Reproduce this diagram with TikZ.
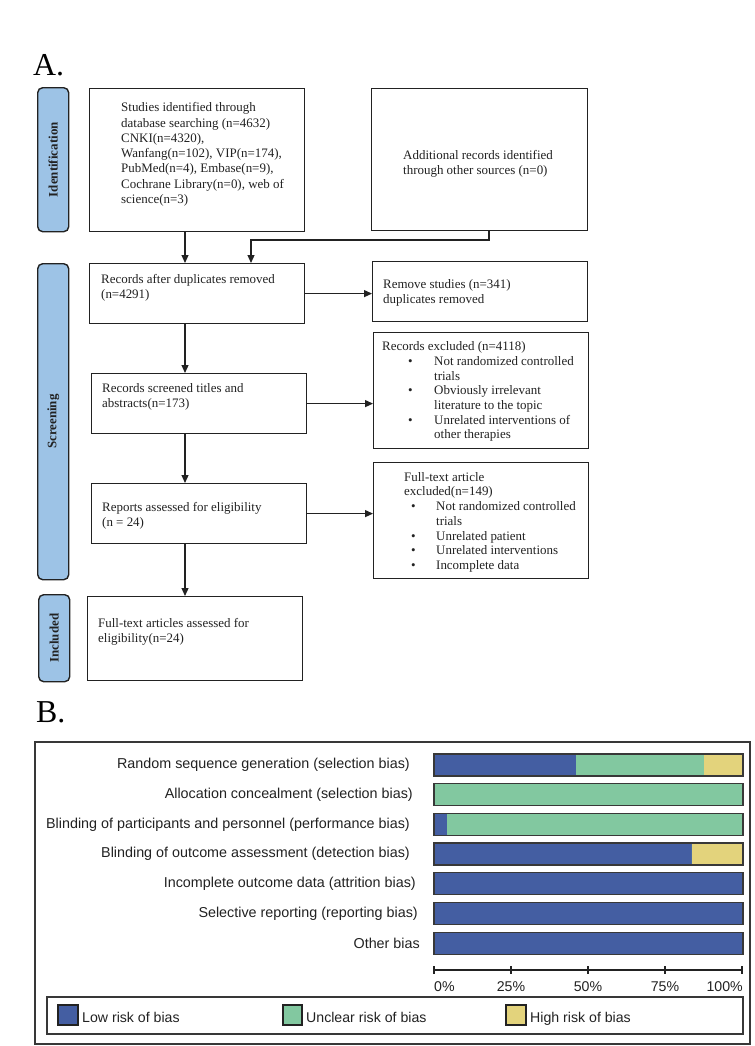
\documentclass[tikz,border=0pt]{standalone}
\usepackage{fontspec}
\setmainfont{Liberation Serif}
\setsansfont{Liberation Sans}
\usetikzlibrary{arrows.meta}
\definecolor{sidefill}{HTML}{9DC3E6}
\definecolor{lowc}{HTML}{445EA2}
\definecolor{uncc}{HTML}{82C8A0}
\definecolor{highc}{HTML}{E3D37C}
\definecolor{inkc}{HTML}{222222}
\begin{document}
\begin{tikzpicture}[x=1bp,y=-1bp,
  box/.style={draw=inkc, line width=1.2bp, inner sep=0pt, anchor=north west},
  side/.style={draw=inkc, fill=sidefill, line width=1.4bp, rounded corners=5bp, inner sep=0pt, anchor=north west},
  arr/.style={draw=inkc, line width=1.2bp, -{Triangle[length=8bp,width=7bp]}},
  ftxt/.style={anchor=north west, inner sep=0pt, align=left, text=inkc, font=\fontsize{13}{15}\selectfont},
  sidetxt/.style={rotate=90, inner sep=0pt, text=inkc, font=\bfseries\fontsize{13}{15}\selectfont},
  lab/.style={anchor=east, inner sep=0pt, text=inkc, font=\sffamily\fontsize{14.4}{16}\selectfont},
  axlab/.style={inner sep=0pt, text=inkc, font=\sffamily\fontsize{14.2}{16}\selectfont},
  frame/.style={draw=inkc!90, line width=1.3bp},
  bigl/.style={anchor=base west, inner sep=0pt, font=\fontsize{32}{36}\selectfont}
]
\useasboundingbox (0,0) rectangle (755,1046);
\fill[white] (0,0) rectangle (755,1046);

% ---------- Panel A ----------
\node[bigl] (labA) at (33,75) {A.};

\node[side, minimum width=31bp, minimum height=144bp] (s1) at (37,87) {};
\node[side, minimum width=31bp, minimum height=316bp] (s2) at (37,263) {};
\node[side, minimum width=31bp, minimum height=87bp] (s3) at (38,594) {};
\node[sidetxt] (t1) at (s1.center) {Identification};
\node[sidetxt] (t2) at (s2.center) {Screening};
\node[sidetxt] (t3) at (s3.center) {Included};

\node[box, minimum width=215bp, minimum height=143bp] (b1) at (89,88) {};
\node[box, minimum width=216bp, minimum height=142bp] (b2) at (371,88) {};
\node[box, minimum width=215bp, minimum height=60bp] (b3) at (89,263) {};
\node[box, minimum width=215bp, minimum height=60bp] (rm) at (372,261) {};
\node[box, minimum width=215bp, minimum height=60bp] (b4) at (91,373) {};
\node[box, minimum width=215bp, minimum height=116bp] (ex) at (373,332) {};
\node[box, minimum width=215bp, minimum height=60bp] (b5) at (91,483) {};
\node[box, minimum width=215bp, minimum height=116bp] (ft) at (373,462) {};
\node[box, minimum width=215bp, minimum height=84bp] (b6) at (87,596) {};

\node[ftxt, font=\fontsize{13}{15.3}\selectfont] (x1) at (121,101) {\strut Studies identified through\\database searching (n=4632)\\CNKI(n=4320),\\Wanfang(n=102), VIP(n=174),\\PubMed(n=4), Embase(n=9),\\Cochrane Library(n=0), web of\\science(n=3)};
\node[ftxt] (x2) at (403,148.5) {\strut Additional records identified\\through other sources (n=0)};
\node[ftxt] (x3) at (101,272.5) {\strut Records after duplicates removed\\(n=4291)};
\node[ftxt] (xrm) at (383,277.5) {\strut Remove studies (n=341)\\duplicates removed};
\node[ftxt] (x4) at (102,381.5) {\strut Records screened titles and\\abstracts(n=173)};
\node[ftxt, font=\fontsize{13}{14.7}\selectfont] (xex) at (382,340.5) {\strut Records excluded (n=4118)\\
\hspace*{26bp}\makebox[26bp][l]{\textbullet}Not randomized controlled\\
\hspace*{52bp}trials\\
\hspace*{26bp}\makebox[26bp][l]{\textbullet}Obviously irrelevant\\
\hspace*{52bp}literature to the topic\\
\hspace*{26bp}\makebox[26bp][l]{\textbullet}Unrelated interventions of\\
\hspace*{52bp}other therapies};
\node[ftxt] (x5) at (102,500.5) {\strut Reports assessed for eligibility\\(n = 24)};
\node[ftxt, font=\fontsize{13}{14.8}\selectfont] (xft) at (404,470.5) {\strut Full-text article\\excluded(n=149)\\
\hspace*{7bp}\makebox[25bp][l]{\textbullet}Not randomized controlled\\
\hspace*{32bp}trials\\
\hspace*{7bp}\makebox[25bp][l]{\textbullet}Unrelated patient\\
\hspace*{7bp}\makebox[25bp][l]{\textbullet}Unrelated interventions\\
\hspace*{7bp}\makebox[25bp][l]{\textbullet}Incomplete data};
\node[ftxt] (x6) at (98,616.5) {\strut Full-text articles assessed for\\eligibility(n=24)};

% connectors
\coordinate (xa) at (185,0);
\coordinate (j1) at (489,240);
\coordinate (j2) at (251,240);
\draw[arr] (b1.south -| xa) -- (b3.north -| xa);
\draw[arr] (b2.south -| j1) -- (j1) -- (j2) -- (b3.north -| j2);
\draw[arr] (b3.south -| xa) -- (b4.north -| xa);
\draw[arr] (b4.south -| xa) -- (b5.north -| xa);
\draw[arr] (b5.south -| xa) -- (b6.north -| xa);
\draw[arr] (b3.east) -- (b3.east -| rm.west);
\draw[arr] (b4.east) -- (b4.east -| ex.west);
\draw[arr] (b5.east) -- (b5.east -| ft.west);

% ---------- Panel B ----------
\node[bigl] (labB) at (36,722) {B.};
\draw[frame] (35,742) rectangle (750,1044);

\foreach \i/\lo/\un/\lx/\txt in {
  0/11/10/410/Random sequence generation (selection bias),
  1/0/24/413/Allocation concealment (selection bias),
  2/1/23/410/Blinding of participants and personnel (performance bias),
  3/20/0/410/Blinding of outcome assessment (detection bias),
  4/24/0/416/Incomplete outcome data (attrition bias),
  5/24/0/418/Selective reporting (reporting bias),
  6/24/0/420/Other bias}{
  \pgfmathsetmacro\yt{754+29.7*\i}
  \pgfmathsetmacro\xa{434+309*\lo/24}
  \pgfmathsetmacro\xb{434+309*(\lo+\un)/24}
  \fill[lowc] (434,\yt) rectangle (\xa,\yt+22);
  \fill[uncc] (\xa,\yt) rectangle (\xb,\yt+22);
  \fill[highc] (\xb,\yt) rectangle (743,\yt+22);
  \draw[frame] (434,\yt) rectangle (743,\yt+22);
  \node[lab] (lab\i) at (\lx,\yt+11) {\txt};
}

% axis
\draw[draw=inkc, line width=1.2bp] (434,970) -- (742,970);
\foreach \k in {0,...,4}{
  \draw[draw=inkc, line width=1.2bp] (434+77*\k,966) -- (434+77*\k,974);
}
\node[axlab, anchor=base west] (ax0) at (434,991) {0\%};
\node[axlab, anchor=base] (ax1) at (511,991) {25\%};
\node[axlab, anchor=base] (ax2) at (588,991) {50\%};
\node[axlab, anchor=base] (ax3) at (665,991) {75\%};
\node[axlab, anchor=base east] (ax4) at (743,991) {100\%};

% legend
\draw[frame] (47,997) rectangle (743,1034);
\draw[draw=inkc, line width=1.1bp, fill=lowc] (58,1005) rectangle (78,1025);
\draw[draw=inkc, line width=1.1bp, fill=uncc] (283,1005) rectangle (302,1025);
\draw[draw=inkc, line width=1.1bp, fill=highc] (506,1005) rectangle (526,1025);
\node[axlab, anchor=base west] (lg1) at (82,1022) {Low risk of bias};
\node[axlab, anchor=base west] (lg2) at (306,1022) {Unclear risk of bias};
\node[axlab, anchor=base west] (lg3) at (530,1022) {High risk of bias};
\end{tikzpicture}
\end{document}
